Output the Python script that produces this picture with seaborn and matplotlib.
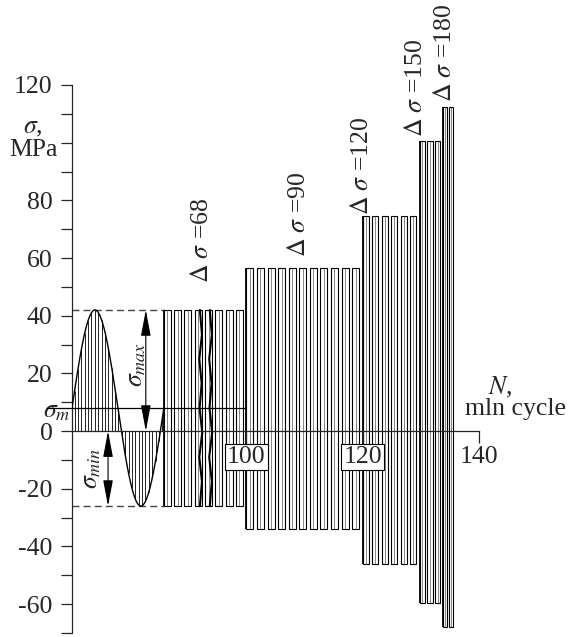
import numpy as np
import matplotlib
matplotlib.use("Agg")
import matplotlib.pyplot as plt
from matplotlib import font_manager as fm
import seaborn as sns
import pandas as pd

# ---------------- data ----------------
delta_sigma = ["68", "90", "120", "150", "180"]          # stress range labels, MPa
sigma_max = [42, 56.5, 74.5, 100.5, 112.5]               # upper stress of each block
sigma_min = [-26, -34, -46, -59.5, -68]                  # lower stress of each block
block_start = [85.8, 100, 120, 129.8, 133.8]             # N at start of block, mln cycle
block_end = [100, 120, 129.8, 133.8, 135.9]              # N at end of block
bars_per_block = [8, 11, 6, 3, 2]
sigma_mean = 8                                            # sigma_m
x_ticks = [100, 120, 140]
x_tick_labels = ["100", "120", "140"]
y_ticks = list(range(-70, 121, 10))
y_labelled = [-60, -40, -20, 0, 20, 40, 60, 80, 120]
sine_start, sine_end = 70, 85.8                           # schematic loading cycle

# ---------------- style ----------------
sns.set_style("ticks")
names = {f.name for f in fm.fontManager.ttflist}
serif = [n for n in ["Liberation Serif", "Times New Roman", "Nimbus Roman", "DejaVu Serif"] if n in names]
plt.rcParams["font.family"] = serif + ["DejaVu Sans"]
plt.rcParams["mathtext.fontset"] = "stix"
plt.rcParams["axes.axisbelow"] = False
FS = 18.5
FS_ROT = 18.5

fig = plt.figure(figsize=(5.7, 6.37), dpi=100)
ax = fig.add_axes([0.1263, 0.00628, 0.714, 0.8603])
ax.set_xlim(70, 140)
ax.set_ylim(-70, 120)

# ---------------- schematic sine cycle ----------------
amp = (sigma_max[0] - sigma_min[0]) / 2
xs = np.linspace(sine_start, sine_end, 300)
ys = sigma_mean + amp * np.sin(2 * np.pi * (xs - sine_start) / (sine_end - sine_start))
sine_df = pd.DataFrame({"N": xs, "sigma": ys})
sns.lineplot(data=sine_df, x="N", y="sigma", sort=False, color="black", lw=1.0, ax=ax, zorder=3)
hx = np.arange(sine_start + 0.45, sine_end, 0.58)
hy = sigma_mean + amp * np.sin(2 * np.pi * (hx - sine_start) / (sine_end - sine_start))
ax.vlines(hx, 0, hy, color="black", lw=0.6, zorder=2)

ax.plot([sine_start, sine_end], [sigma_max[0]] * 2, ls=(0, (5, 3)), color="#444444", lw=1.0)
ax.plot([sine_start, sine_end], [sigma_min[0]] * 2, ls=(0, (5, 3)), color="#444444", lw=1.0)

# ---------------- blocks of cycles ----------------
for i in range(len(delta_sigma)):
    n = bars_per_block[i]
    p = (block_end[i] - block_start[i]) / n
    w = 0.66 * p
    lefts = block_start[i] + p * np.arange(n)
    h = sigma_max[i] - sigma_min[i]
    ax.bar(lefts, h, bottom=sigma_min[i], width=w, align="edge",
           color="white", edgecolor="black", linewidth=0.8, zorder=1)
    ax.vlines(lefts + w / 2, sigma_min[i], sigma_max[i], color="#555555", lw=0.5, zorder=1.5)
    ax.vlines(block_start[i], sigma_min[i], sigma_max[i], color="black", lw=1.3, zorder=2)

lab_x = [92.4, 109.0, 119.9, 129.1, 134.2]
lab_y = [51.5, 60.5, 75.0, 102.0, 114.0]
for i, d in enumerate(delta_sigma):
    ax.text(lab_x[i], lab_y[i], r"$\mathit{\Delta}\ \sigma$ =" + d, rotation=90,
            ha="center", va="bottom", fontsize=FS_ROT, clip_on=False)

brk_y = np.linspace(sigma_min[0], sigma_max[0], 9)
brk_off = np.array([0, 0.35, -0.1, 0.4, -0.05, 0.3, -0.1, 0.35, 0])
for bx in (92.0, 93.7):
    ax.plot(bx + brk_off, brk_y, color="black", lw=1.5, zorder=4)

ax.plot([65.7, 100], [sigma_mean, sigma_mean], color="black", lw=0.9, clip_on=False, zorder=4)
ax.text(67.4, 6.5, r"$\sigma_m$", fontsize=FS, ha="center", va="center", clip_on=False)

arr = dict(arrowstyle="<|-|>,head_length=1.6,head_width=0.3", lw=0.8, color="black",
           shrinkA=0, shrinkB=0, mutation_scale=10)
ax.annotate("", xy=(82.7, sigma_max[0]), xytext=(82.7, 0), arrowprops=arr, zorder=5)
ax.annotate("", xy=(76.2, sigma_min[0]), xytext=(76.2, 0), arrowprops=arr, zorder=5)
ax.text(81.1, 23, r"$\sigma_{max}$", rotation=90, fontsize=FS, ha="center", va="center")
ax.text(73.4, -13, r"$\sigma_{min}$", rotation=90, fontsize=FS, ha="center", va="center")

# ---------------- axes ----------------
ax.spines["top"].set_visible(False)
ax.spines["right"].set_visible(False)
ax.spines["bottom"].set_position(("data", 0))
ax.spines["bottom"].set_linewidth(0.9)
ax.spines["left"].set_linewidth(0.9)
ax.spines["bottom"].set_zorder(4)

ax.set_yticks(y_ticks)
ax.set_yticklabels([str(v) if v in y_labelled else "" for v in y_ticks], fontsize=FS)
ax.set_xticks(x_ticks)
ax.set_xticklabels(x_tick_labels, fontsize=FS)
ax.tick_params(axis="y", direction="out", length=8, width=0.9, pad=6)
ax.tick_params(axis="x", direction="out", length=8.5, width=0.9, pad=2)
for lbl in ax.get_xticklabels()[:2]:
    lbl.set_bbox(dict(boxstyle="square,pad=0.08", fc="white", ec="black", lw=0.8))
ax.set_xlabel("")
ax.set_ylabel("")

ax.text(63.3, 105, r"$\sigma$,", fontsize=FS, ha="center", va="center", clip_on=False)
ax.text(63.3, 97.5, "MPa", fontsize=FS, ha="center", va="center", clip_on=False)
ax.text(143.6, 15, r"$N$,", fontsize=FS, ha="center", va="center", clip_on=False)
ax.text(146.2, 7.6, "mln cycle", fontsize=FS, ha="center", va="center", clip_on=False)

fig.savefig("out.png", dpi=100)
